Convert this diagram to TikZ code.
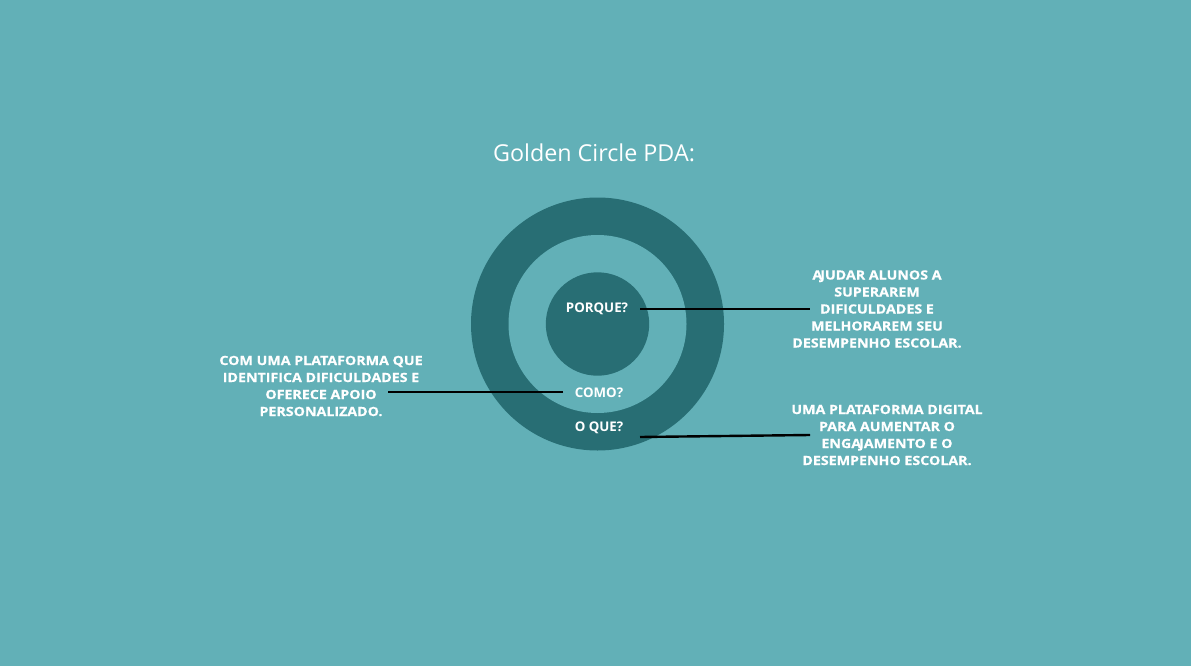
\documentclass[tikz,border=0pt]{standalone}
\usepackage{fontspec}
\setmainfont{Open Sans}
\newfontfamily\widebold{Open Sans}[UprightFont=*-Bold,FakeStretch=1.12,FakeBold=0.6]
\definecolor{bgteal}{HTML}{62B0B7}
\definecolor{darkteal}{HTML}{286E74}
% tighter pair before the hooked J
\newcommand{\tightJ}{\kern-2pt J}
\begin{document}
\begin{tikzpicture}[x=1pt,y=-1pt,
  label/.style={text=white,font=\fontsize{13.3}{17}\selectfont\bfseries,inner sep=0pt},
  block/.style={text=white,font=\widebold\fontsize{12.7}{17}\selectfont,inner sep=0pt,align=center},
  leader/.style={draw=black,line width=2.4pt}]
  % canvas
  \fill[bgteal] (0,0) rectangle (1191,666);
  \useasboundingbox (0,0) rectangle (1191,666);
  % title
  \node[text=white,font=\fontsize{23.3}{28}\selectfont,inner sep=0pt] (title) at (594,153) {Golden Circle PDA:};
  % concentric circles
  \fill[darkteal] (597.5,324) circle (126.5);
  \fill[bgteal] (597.5,324) circle (89);
  \fill[darkteal] (597.5,324) circle (51.7);
  % ring labels
  \node[label] (porque) at (597,309) {PORQUE?};
  \node[label] (como) at (599,393) {COMO?};
  \node[label] (oque) at (599,428) {O QUE?};
  % explanation blocks
  \node[block] (why) at (877,309) {A\tightJ UDAR ALUNOS A\\SUPERAREM\\DIFICULDADES E\\MELHORAREM SEU\\DESEMPENHO ESCOLAR.};
  \node[block] (how) at (321,386) {COM UMA PLATAFORMA QUE\\IDENTIFICA DIFICULDADES E\\OFERECE APOIO\\PERSONALIZADO.};
  \node[block] (what) at (887,435) {UMA PLATAFORMA DIGITAL\\PARA AUMENTAR O\\ENGA\tightJ AMENTO E O\\DESEMPENHO ESCOLAR.};
  % leader line ends
  \coordinate (porqueA) at (640,309);
  \coordinate (porqueB) at (810,309);
  \coordinate (comoA) at (563,392);
  \coordinate (comoB) at (388,392);
  \coordinate (oqueA) at (640,437);
  \coordinate (oqueB) at (810,435);
  \draw[leader] (porqueA) -- (porqueB);
  \draw[leader] (comoA) -- (comoB);
  \draw[leader] (oqueA) -- (oqueB);
\end{tikzpicture}
\end{document}
